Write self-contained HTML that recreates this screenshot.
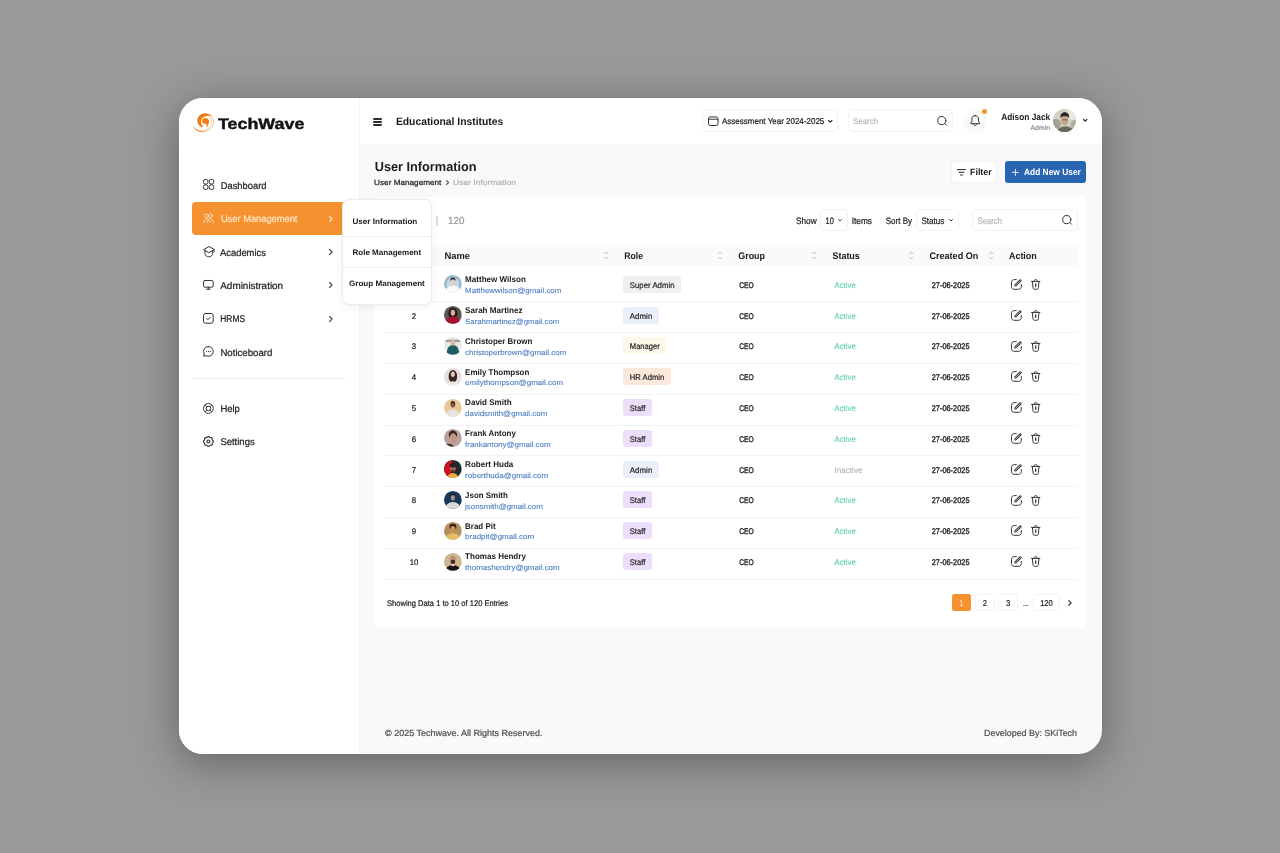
<!DOCTYPE html>
<html lang="en"><head><meta charset="utf-8"><title>User Information - TechWave</title>
<style>
html,body{margin:0;padding:0}
body{width:1280px;height:853px;background:#999;position:relative;overflow:hidden;font-family:"Liberation Sans",sans-serif;text-rendering:geometricPrecision}
#card{position:absolute;left:179px;top:98px;width:923px;height:656px;border-radius:24px;background:#f9f9fb;overflow:hidden}
#sh{position:absolute;left:179px;top:98px;width:923px;height:656px;border-radius:24px;box-shadow:0 9px 42px 2px rgba(0,0,0,.32)}
.t{position:absolute;white-space:nowrap;transform-origin:0 0;color:#222}
.b{position:absolute;box-sizing:border-box}
svg{overflow:visible}
</style></head>
<body>
<div id="sh"></div>
<div id="card">
<div class="b" style="left:0px;top:0px;width:180.5px;height:656px;background:#fff;border-right:1px solid #f4f4f6"></div>
<div class="b" style="left:180.5px;top:0px;width:742.5px;height:46px;background:#fff"></div>
<svg class="b" style="left:10px;top:10px;" width="30" height="30" viewBox="0 0 30 30">
<path d="M13.600 19.200C9.400 17.800 7.600 14.300 8.500 10.900C9.600 7 13.500 4.900 17.700 5.400C20.400 5.700 22.400 6.900 23.400 8.400C21.600 7.600 19.600 7.700 17.800 8C14.500 8.600 12.300 10.600 12.100 13.200C11.900 15.500 12.800 17.300 14.300 18.500Z" fill="#f07d14"/>
<path d="M13.100 13.500C13 11.100 15 9.900 16.900 10.100C19 10.300 20.200 12 20 14C19.800 16.100 19 17.900 17.400 19.500C17.700 17.900 17.600 16.600 16.900 15.700C15.900 16.100 13.200 15.900 13.100 13.500Z" fill="#f27d10"/>
<path d="M3.900 18.100C6.500 21.400 10.500 23 14 22.800C16.500 22.600 18.400 21.600 19.400 20.200C18.600 22.300 16.500 23.900 13.800 24.200C9.500 24.700 5.500 22.300 3.900 18.100Z" fill="#f0a162"/>
<path d="M21.600 7.600C24.600 10.100 25.500 14 24.100 17.500C23.100 20 21.200 21.800 19 22.600M20.100 8.700C22.500 10.600 23.300 14 22.100 17C21.400 18.700 20.100 20.200 18.600 21" fill="none" stroke="#f4ab6c" stroke-width=".7" stroke-linecap="round"/>
</svg>
<span class="t" style="left:39px;top:16px;font-size:15.4px;line-height:20px;font-weight:700;color:#111;-webkit-text-stroke:0.4px;transform:translate(0px,0.9px) scaleX(1.160);">TechWave</span>
<svg class="b" style="left:23.9px;top:81.3px;" width="11.2" height="10.9" viewBox="0 0 11.2 10.9"><g fill="none" stroke="#333" stroke-width="1"><rect x=".5" y=".5" width="4.400" height="4.500" rx="1.500"/><rect x="6.300" y=".5" width="4.400" height="4.500" rx="1.500"/><rect x=".5" y="5.900" width="4.400" height="4.500" rx="1.500"/><rect x="6.300" y="5.900" width="4.400" height="4.500" rx="1.500"/></g></svg>
<span class="t" style="left:41px;top:81px;font-size:9.8px;line-height:13px;-webkit-text-stroke:0.22px;transform:translate(0.7px,0.9px) scaleX(0.955);">Dashboard</span>
<div class="b" style="left:13px;top:103.7px;width:154px;height:33.1px;background:#f5922f;border-radius:4px"></div>
<svg class="b" style="left:24px;top:115px;" width="11" height="11" viewBox="0 0 11 11"><g fill="none" stroke="#fde3c8" stroke-width=".9" stroke-linecap="round"><circle cx="3.500" cy="2.900" r="1.900"/><circle cx="7.500" cy="2.900" r="1.900"/><path d="M.6 9.800c.2-2.300 1.400-3.700 2.900-3.700s2.100.9 2.100.9.600-.9 2.100-.9 2.700 1.400 2.900 3.700M3.500 9.800l2-2.800 2 2.800"/></g></svg>
<span class="t" style="left:41px;top:115px;font-size:9.8px;line-height:13px;color:#fde3c0;-webkit-text-stroke:0.22px;transform:translate(0.9px,0.4px) scaleX(0.950);">User Management</span>
<svg class="b" style="left:149.5px;top:117.5px;" width="3.7" height="6" viewBox="0 0 3.700 6"><path d="M.6 .5L3.100 3 .6 5.500" fill="none" stroke="#fde3c8" stroke-width="1.1" stroke-linecap="round" stroke-linejoin="round"/></svg>
<svg class="b" style="left:23.7px;top:147.7px;" width="11.6" height="11.4" viewBox="0 0 11.6 11.4"><g fill="none" stroke="#333" stroke-width="1" stroke-linejoin="round" stroke-linecap="round"><path d="M5.800.700L.600 3.700l5.200 3 5.200-3z"/><path d="M2 4.900v2.700c0 1.800 1.700 3.200 3.800 3.200s3.800-1.400 3.800-3.200V4.900"/><path d="M11 3.700v2.300"/></g></svg>
<span class="t" style="left:41px;top:148px;font-size:9.8px;line-height:13px;-webkit-text-stroke:0.22px;transform:translate(0px,0.5px) scaleX(0.958);">Academics</span>
<svg class="b" style="left:149.5px;top:150.9px;" width="3.7" height="6" viewBox="0 0 3.700 6"><path d="M.6 .5L3.100 3 .6 5.500" fill="none" stroke="#444" stroke-width="1.1" stroke-linecap="round" stroke-linejoin="round"/></svg>
<svg class="b" style="left:24.1px;top:182px;" width="10.7" height="9.7" viewBox="0 0 10.7 9.7"><g fill="none" stroke="#333" stroke-width="1" stroke-linejoin="round" stroke-linecap="round"><rect x=".5" y=".5" width="9.700" height="6.700" rx="1.400"/><path d="M3.500 9.200h3.700M5.350 7.200v2"/></g></svg>
<span class="t" style="left:41px;top:182px;font-size:9.8px;line-height:13px;-webkit-text-stroke:0.22px;transform:translate(0.25px,0px) scaleX(1.013);">Administration</span>
<svg class="b" style="left:149.5px;top:184.3px;" width="3.7" height="6" viewBox="0 0 3.700 6"><path d="M.6 .5L3.100 3 .6 5.500" fill="none" stroke="#444" stroke-width="1.1" stroke-linecap="round" stroke-linejoin="round"/></svg>
<svg class="b" style="left:24.1px;top:215.1px;" width="10.7" height="10.7" viewBox="0 0 10.7 10.7"><g fill="none" stroke="#333" stroke-width="1" stroke-linejoin="round" stroke-linecap="round"><rect x=".5" y=".5" width="9.700" height="9.700" rx="2"/><path d="M3.600 5.500l1.300 1.300 2.300-2.500"/></g></svg>
<span class="t" style="left:41px;top:215px;font-size:9.8px;line-height:13px;-webkit-text-stroke:0.22px;transform:translate(0.3px,0.4px) scaleX(0.856);">HRMS</span>
<svg class="b" style="left:149.5px;top:217.7px;" width="3.7" height="6" viewBox="0 0 3.700 6"><path d="M.6 .5L3.100 3 .6 5.500" fill="none" stroke="#444" stroke-width="1.1" stroke-linecap="round" stroke-linejoin="round"/></svg>
<svg class="b" style="left:24.1px;top:248.2px;" width="10.7" height="10.8" viewBox="0 0 10.7 10.8"><g fill="none" stroke="#333" stroke-width="1" stroke-linejoin="round" stroke-linecap="round"><path d="M5.400.5a4.900 4.900 0 1 1-2.500 9.100L.6 10.200l.6-2.300A4.900 4.900 0 0 1 5.400.5z"/></g><g fill="#333"><circle cx="3.400" cy="5.400" r=".55"/><circle cx="5.400" cy="5.400" r=".55"/><circle cx="7.400" cy="5.400" r=".55"/></g></svg>
<span class="t" style="left:41px;top:248px;font-size:9.8px;line-height:13px;-webkit-text-stroke:0.22px;transform:translate(0.4px,0.8px) scaleX(0.984);">Noticeboard</span>
<div class="b" style="left:13px;top:279.6px;width:153.6px;height:1px;background:#ededed"></div>
<svg class="b" style="left:24.1px;top:304.5px;" width="10.8" height="10.8" viewBox="0 0 10.8 10.8"><g fill="none" stroke="#333" stroke-width="1"><circle cx="5.400" cy="5.400" r="4.900"/><circle cx="5.400" cy="5.400" r="2.300"/><path d="M2 2l1.800 1.800M8.800 2L7 3.800M2 8.800l1.800-1.800M8.800 8.800L7 7"/></g></svg>
<span class="t" style="left:41px;top:304px;font-size:9.8px;line-height:13px;-webkit-text-stroke:0.22px;transform:translate(0.4px,0.6px) scaleX(0.967);">Help</span>
<svg class="b" style="left:24.1px;top:338px;" width="10.8" height="10.9" viewBox="0 0 10.8 10.9"><g fill="none" stroke="#333" stroke-width="1.150" stroke-linejoin="round"><path d="M5.40 0.43L5.88 0.58L6.30 0.94L6.65 1.33L7.00 1.59L7.43 1.66L7.96 1.63L8.51 1.66L8.95 1.90L9.19 2.34L9.22 2.89L9.19 3.42L9.26 3.85L9.52 4.20L9.91 4.55L10.27 4.97L10.42 5.45L10.27 5.93L9.91 6.35L9.52 6.70L9.26 7.05L9.19 7.48L9.22 8.01L9.19 8.56L8.95 9.00L8.51 9.24L7.96 9.27L7.43 9.24L7.00 9.31L6.65 9.57L6.30 9.96L5.88 10.32L5.40 10.47L4.92 10.32L4.50 9.96L4.15 9.57L3.80 9.31L3.37 9.24L2.84 9.27L2.29 9.24L1.85 9.00L1.61 8.56L1.58 8.01L1.61 7.48L1.54 7.05L1.28 6.70L0.89 6.35L0.53 5.93L0.38 5.45L0.53 4.97L0.89 4.55L1.28 4.20L1.54 3.85L1.61 3.42L1.58 2.89L1.61 2.34L1.85 1.90L2.29 1.66L2.84 1.63L3.37 1.66L3.80 1.59L4.15 1.33L4.50 0.94L4.92 0.58Z"/><circle cx="5.400" cy="5.450" r="1.450"/></g></svg>
<span class="t" style="left:41px;top:338px;font-size:9.8px;line-height:13px;-webkit-text-stroke:0.22px;transform:translate(0.4px,0px) scaleX(0.967);">Settings</span>
<div class="b" style="left:194.1px;top:20px;width:8.9px;height:1.65px;background:#2e2e2e;border-radius:1px"></div>
<div class="b" style="left:194.1px;top:23.05px;width:8.9px;height:1.65px;background:#2e2e2e;border-radius:1px"></div>
<div class="b" style="left:194.1px;top:26.1px;width:8.9px;height:1.65px;background:#2e2e2e;border-radius:1px"></div>
<span class="t" style="left:216px;top:16px;font-size:10.7px;line-height:14px;font-weight:700;color:#1a1a1a;transform:translate(0.9px,0.9px) scaleX(0.967);">Educational Institutes</span>
<div class="b" style="left:522.7px;top:11.2px;width:136.6px;height:22.6px;border:1px solid #f2f2f3;border-radius:4px;background:#fff"></div>
<svg class="b" style="left:528.5px;top:18px;" width="10.5" height="10" viewBox="0 0 10.5 10"><g fill="none" stroke="#333" stroke-width="1" stroke-linejoin="round"><rect x=".5" y=".9" width="9.500" height="8.600" rx="1.800"/><path d="M.5 3.200h9.500"/></g></svg>
<span class="t" style="left:543px;top:17px;font-size:8.5px;line-height:11px;-webkit-text-stroke:0.22px;transform:translate(0px,0.9px) scaleX(0.941);">Assessment Year 2024-2025</span>
<svg class="b" style="left:649px;top:21.6px;" width="4.4" height="2.8" viewBox="0 0 4.4 2.800"><path d="M.5.5l1.700 1.700L3.900.5" fill="none" stroke="#333" stroke-width="1.200" stroke-linecap="round" stroke-linejoin="round"/></svg>
<div class="b" style="left:668.5px;top:11.2px;width:105.8px;height:22.6px;border:1px solid #f2f2f3;border-radius:4px;background:#fff"></div>
<span class="t" style="left:674px;top:17px;font-size:8.5px;line-height:11px;color:#b8b8b8;-webkit-text-stroke:0.22px;transform:translate(0px,0.9px) scaleX(0.928);">Search</span>
<svg class="b" style="left:758.3px;top:17.8px;" width="10.4" height="10" viewBox="0 0 10.4 10"><g fill="none" stroke="#333" stroke-width="1" stroke-linecap="round"><circle cx="4.800" cy="4.600" r="4.100"/><path d="M7.900 7.600l1.600 1.600"/></g></svg>
<div class="b" style="left:784.5px;top:11.5px;width:23px;height:23px;background:#f9f9fa;border-radius:50%"></div>
<svg class="b" style="left:790.8px;top:17.3px;" width="10.4" height="11.2" viewBox="0 0 10.4 11.2"><g fill="none" stroke="#333" stroke-width="1" stroke-linecap="round" stroke-linejoin="round"><path d="M5.200.6C3.200.6 1.900 2.100 1.900 4v2.300L.7 8.200c-.1.300 0 .5.300.5h8.400c.3 0 .4-.2.300-.5L8.500 6.300V4C8.500 2.100 7.200.6 5.200.6z"/><path d="M3.800 9c0 .9.600 1.600 1.400 1.600s1.400-.7 1.400-1.600"/></g></svg>
<div class="b" style="left:802.7px;top:11.2px;width:5.2px;height:5.2px;background:#f5922f;border-radius:50%"></div>
<span class="t" style="left:822px;top:12px;font-size:9.1px;line-height:12px;font-weight:700;color:#1a1a1a;transform:translate(0.25px,0.7px) scaleX(0.912);">Adison Jack</span>
<span class="t" style="left:851px;top:25px;font-size:6.6px;line-height:9px;color:#919191;-webkit-text-stroke:0.22px;transform:translate(0.5px,0.8px) scaleX(1.048);">Admin</span>
<svg class="b" style="left:874.1px;top:11.3px;" width="23" height="23" viewBox="0 0 23 23"><defs><clipPath id="ca"><circle cx="11.5" cy="11.5" r="11.5"/></clipPath></defs><g clip-path="url(#ca)"><rect width="23" height="23" fill="#d3d1c6"/><ellipse cx="2.500" cy="15" rx="5.500" ry="5" fill="#8f917f" opacity=".75"/><ellipse cx="19" cy="5" rx="6" ry="6" fill="#e9e7df"/><ellipse cx="21.500" cy="16" rx="4" ry="5" fill="#9a9a88" opacity=".6"/><ellipse cx="12.300" cy="24" rx="8.800" ry="6.800" fill="#676b5d"/><ellipse cx="11.700" cy="11.400" rx="3.400" ry="4.600" fill="#c9a08b"/><path d="M7.500 9.200C6.800 5.500 9 3.300 11.800 3.300s5 2.200 4.300 5.900c-.8-1.600-2.300-2.300-4.300-2.300s-3.500.7-4.300 2.300z" fill="#2b2521"/><path d="M8.800 10.800h5.800" stroke="#4a3a32" stroke-width=".8" opacity=".7"/></g></svg>
<svg class="b" style="left:904.1px;top:21.4px;" width="4.4" height="2.8" viewBox="0 0 4.4 2.800"><path d="M.5.5l1.700 1.700L3.900.5" fill="none" stroke="#333" stroke-width="1.200" stroke-linecap="round" stroke-linejoin="round"/></svg>
<span class="t" style="left:195px;top:60px;font-size:13px;line-height:17px;font-weight:700;color:#1a1a1a;transform:translate(0.7px,0px) scaleX(0.979);">User Information</span>
<span class="t" style="left:195px;top:79px;font-size:7.6px;line-height:10px;-webkit-text-stroke:0.22px;transform:translate(0.1px,0.9px) scaleX(1.077);">User Management</span>
<svg class="b" style="left:267px;top:82.4px;" width="3" height="5" viewBox="0 0 3 5"><path d="M.6.600l1.900 1.900-1.900 1.900" fill="none" stroke="#4a4a4a" stroke-width="1.100" stroke-linecap="round" stroke-linejoin="round"/></svg>
<span class="t" style="left:274px;top:79px;font-size:7.6px;line-height:10px;color:#b4b4b4;-webkit-text-stroke:0.22px;transform:translate(0px,0.9px) scaleX(1.122);">User Information</span>
<div class="b" style="left:771.8px;top:62.5px;width:46.3px;height:22.5px;border:1px solid #f2f2f3;border-radius:3px;background:#fff"></div>
<svg class="b" style="left:778px;top:70.6px;" width="9" height="6.6" viewBox="0 0 9 6.600"><path d="M.5.600h8M2 3.300h5M3.500 6h2" fill="none" stroke="#222" stroke-width="1" stroke-linecap="round"/></svg>
<span class="t" style="left:791px;top:68px;font-size:9.2px;line-height:12px;font-weight:700;color:#1a1a1a;transform:translate(0px,0.3px) scaleX(0.968);">Filter</span>
<div class="b" style="left:825.7px;top:63.3px;width:81.1px;height:21.3px;border-radius:3px;background:#2866b4"></div>
<svg class="b" style="left:833.3px;top:70.6px;" width="6.8" height="6.8" viewBox="0 0 6.800 6.800"><path d="M3.400.4v6M.4 3.400h6" fill="none" stroke="#fff" stroke-width=".9" stroke-linecap="round"/></svg>
<span class="t" style="left:845px;top:68px;font-size:9.2px;line-height:12px;font-weight:700;color:#fff;transform:translate(0px,0.3px) scaleX(0.912);">Add New User</span>
<div class="b" style="left:195px;top:99px;width:712.5px;height:431.1px;border-radius:6px;background:#fff"></div>
<div class="b" style="left:257.2px;top:117.6px;width:1.5px;height:10px;background:#dcdcdc"></div>
<span class="t" style="left:269px;top:117px;font-size:10.3px;line-height:13px;color:#9b9b9b;-webkit-text-stroke:0.22px;transform:translate(0px,0.4px) scaleX(0.954);">120</span>
<span class="t" style="left:616px;top:116px;font-size:9.3px;line-height:12px;-webkit-text-stroke:0.22px;transform:translate(0.9px,0.9px) scaleX(0.892);">Show</span>
<div class="b" style="left:641px;top:110.7px;width:27.5px;height:22.6px;border:1px solid #f2f2f3;border-radius:3px;background:#fff"></div>
<span class="t" style="left:646px;top:116px;font-size:9.3px;line-height:12px;-webkit-text-stroke:0.22px;transform:translate(0.5px,0.9px) scaleX(0.798);">10</span>
<svg class="b" style="left:658.6px;top:121.3px;" width="4" height="2.6" viewBox="0 0 4 2.600"><path d="M.5.5l1.500 1.500L3.500.5" fill="none" stroke="#333" stroke-width=".9" stroke-linecap="round" stroke-linejoin="round"/></svg>
<span class="t" style="left:672px;top:116px;font-size:9.3px;line-height:12px;-webkit-text-stroke:0.22px;transform:translate(0.75px,0.9px) scaleX(0.891);">Items</span>
<span class="t" style="left:706px;top:116px;font-size:9.3px;line-height:12px;-webkit-text-stroke:0.22px;transform:translate(0.75px,0.9px) scaleX(0.861);">Sort By</span>
<div class="b" style="left:737.2px;top:110.7px;width:42.6px;height:22.6px;border:1px solid #f2f2f3;border-radius:3px;background:#fff"></div>
<span class="t" style="left:742px;top:116px;font-size:9.3px;line-height:12px;-webkit-text-stroke:0.22px;transform:translate(0.5px,0.9px) scaleX(0.863);">Status</span>
<svg class="b" style="left:769.6px;top:121.3px;" width="4" height="2.6" viewBox="0 0 4 2.600"><path d="M.5.5l1.500 1.500L3.500.5" fill="none" stroke="#333" stroke-width=".9" stroke-linecap="round" stroke-linejoin="round"/></svg>
<div class="b" style="left:793px;top:110.7px;width:106px;height:22.6px;border:1px solid #f2f2f3;border-radius:3px;background:#fff"></div>
<span class="t" style="left:798px;top:116px;font-size:9.3px;line-height:12px;color:#b8b8b8;-webkit-text-stroke:0.22px;transform:translate(0.5px,0.9px) scaleX(0.831);">Search</span>
<svg class="b" style="left:882.8px;top:117.3px;" width="10.4" height="10" viewBox="0 0 10.4 10"><g fill="none" stroke="#333" stroke-width="1" stroke-linecap="round"><circle cx="4.800" cy="4.600" r="4.100"/><path d="M7.900 7.600l1.600 1.600"/></g></svg>
<div class="b" style="left:205px;top:146.7px;width:694px;height:20.9px;background:#f9fafb;border-radius:3px"></div>
<span class="t" style="left:265px;top:152px;font-size:9.5px;line-height:12px;font-weight:700;color:#1a1a1a;transform:translate(0.5px,0.6px) scaleX(0.986);">Name</span>
<span class="t" style="left:445px;top:152px;font-size:9.5px;line-height:12px;font-weight:700;color:#1a1a1a;transform:translate(0.25px,0.6px) scaleX(0.913);">Role</span>
<span class="t" style="left:559px;top:152px;font-size:9.5px;line-height:12px;font-weight:700;color:#1a1a1a;transform:translate(0.25px,0.6px) scaleX(0.939);">Group</span>
<span class="t" style="left:653px;top:152px;font-size:9.5px;line-height:12px;font-weight:700;color:#1a1a1a;transform:translate(0.5px,0.6px) scaleX(0.940);">Status</span>
<span class="t" style="left:750px;top:152px;font-size:9.5px;line-height:12px;font-weight:700;color:#1a1a1a;transform:translate(0.5px,0.6px) scaleX(0.952);">Created On</span>
<span class="t" style="left:830px;top:152px;font-size:9.5px;line-height:12px;font-weight:700;color:#1a1a1a;transform:translate(0px,0.6px) scaleX(0.939);">Action</span>
<svg class="b" style="left:424.7px;top:152.5px;" width="4.4" height="8.8" viewBox="0 0 4.400 8.800"><path d="M.5 2.700l1.700-1.900 1.700 1.900M.5 6.100l1.700 1.900 1.700-1.900" fill="none" stroke="#c3c3c8" stroke-width="1" stroke-linecap="round" stroke-linejoin="round"/></svg>
<svg class="b" style="left:539px;top:152.5px;" width="4.4" height="8.8" viewBox="0 0 4.400 8.800"><path d="M.5 2.700l1.700-1.900 1.700 1.900M.5 6.100l1.700 1.900 1.700-1.900" fill="none" stroke="#c3c3c8" stroke-width="1" stroke-linecap="round" stroke-linejoin="round"/></svg>
<svg class="b" style="left:633px;top:152.5px;" width="4.4" height="8.8" viewBox="0 0 4.400 8.800"><path d="M.5 2.700l1.700-1.900 1.700 1.900M.5 6.100l1.700 1.900 1.700-1.900" fill="none" stroke="#c3c3c8" stroke-width="1" stroke-linecap="round" stroke-linejoin="round"/></svg>
<svg class="b" style="left:730.3px;top:152.5px;" width="4.4" height="8.8" viewBox="0 0 4.400 8.800"><path d="M.5 2.700l1.700-1.900 1.700 1.900M.5 6.100l1.700 1.900 1.700-1.900" fill="none" stroke="#c3c3c8" stroke-width="1" stroke-linecap="round" stroke-linejoin="round"/></svg>
<svg class="b" style="left:809.8px;top:152.5px;" width="4.4" height="8.8" viewBox="0 0 4.400 8.800"><path d="M.5 2.700l1.700-1.900 1.700 1.900M.5 6.100l1.700 1.900 1.700-1.900" fill="none" stroke="#c3c3c8" stroke-width="1" stroke-linecap="round" stroke-linejoin="round"/></svg>
<div class="b" style="left:205px;top:203.4px;width:694px;height:1px;background:#f3f3f5"></div>
<span class="t" style="left:232px;top:181px;font-size:8.2px;line-height:11px;-webkit-text-stroke:0.22px;transform:translate(0.83px,0.8px) scaleX(0.950);">1</span>
<svg class="b" style="left:265.3px;top:177.3px;" width="17.8" height="17.8" viewBox="0 0 18 18"><defs><clipPath id="c0"><circle cx="9" cy="9" r="9"/></clipPath></defs><g clip-path="url(#c0)"><rect width="18" height="18" fill="#9bb8cb"/><circle cx="9" cy="9" r="6.500" fill="#c4d7e3"/><ellipse cx="9" cy="17.500" rx="8" ry="7" fill="#fbfbfb"/><ellipse cx="9" cy="4.800" rx="2.600" ry="2.300" fill="#2a2624"/><ellipse cx="9" cy="7.300" rx="2.100" ry="2.900" fill="#e6cfc3"/></g></svg>
<span class="t" style="left:286px;top:176px;font-size:8.3px;line-height:11px;font-weight:700;color:#1a1a1a;transform:translate(0.1px,0.2px) scaleX(0.970);">Matthew Wilson</span>
<span class="t" style="left:286px;top:188px;font-size:7.4px;line-height:10px;color:#4a7ec4;-webkit-text-stroke:0.1px;transform:translate(0.1px,0px) scaleX(1.074);">Matthewwilson@gmail.com</span>
<div class="b" style="left:444px;top:177.8px;width:58.25px;height:17px;background:#f0f0f1;border-radius:3px"></div>
<span class="t" style="left:450px;top:181px;font-size:8.2px;line-height:11px;color:#2a2a2a;-webkit-text-stroke:0.22px;transform:translate(0.8px,0.8px) scaleX(0.954);">Super Admin</span>
<span class="t" style="left:560px;top:181px;font-size:8.2px;line-height:11px;-webkit-text-stroke:0.35px;transform:translate(0.25px,0.8px) scaleX(0.817);">CEO</span>
<span class="t" style="left:655px;top:181px;font-size:8.2px;line-height:11px;color:#62d2a2;-webkit-text-stroke:0.1px;transform:translate(0.5px,0.8px) scaleX(0.953);">Active</span>
<span class="t" style="left:752px;top:181px;font-size:8.2px;line-height:11px;-webkit-text-stroke:0.35px;transform:translate(0.75px,0.8px) scaleX(0.901);">27-06-2025</span>
<svg class="b" style="left:832.2px;top:180.9px;" width="10.8" height="10.8" viewBox="0 0 10.800 10.800"><g fill="none" stroke="#333" stroke-linecap="round" stroke-linejoin="round"><path stroke-width="1" d="M5.300.600H3.300C1.600.600.500 1.700.500 3.400v4.200c0 1.700 1.100 2.700 2.800 2.700h4.200c1.700 0 2.800-1 2.800-2.700V5.500"/><path stroke-width="2.500" d="M4.500 6.300l4.900-4.800"/><path stroke="#fff" stroke-width=".7" d="M4.500 6.300l4.900-4.800"/></g></svg>
<svg class="b" style="left:852.2px;top:181px;" width="9.4" height="10.8" viewBox="0 0 9.400 10.800"><g fill="none" stroke="#333" stroke-width="1" stroke-linecap="round" stroke-linejoin="round"><path d="M.5 2.400h8.400M3.100 2.300c0-1 .7-1.800 1.600-1.800s1.600.8 1.600 1.800M1.400 2.600l.6 6.100c.1 1 .7 1.600 1.600 1.600h2.200c.9 0 1.500-.6 1.600-1.600l.6-6.100"/><path stroke-width="1.300" d="M4.700 5v2.300"/></g></svg>
<div class="b" style="left:205px;top:234.2px;width:694px;height:1px;background:#f3f3f5"></div>
<span class="t" style="left:232px;top:212px;font-size:8.2px;line-height:11px;-webkit-text-stroke:0.22px;transform:translate(0.83px,0.6px) scaleX(0.950);">2</span>
<svg class="b" style="left:265.3px;top:208.1px;" width="17.8" height="17.8" viewBox="0 0 18 18"><defs><clipPath id="c1"><circle cx="9" cy="9" r="9"/></clipPath></defs><g clip-path="url(#c1)"><rect width="18" height="18" fill="#5b5656"/><ellipse cx="9" cy="7.500" rx="4.600" ry="6" fill="#2b1b1b"/><ellipse cx="9" cy="18" rx="8.500" ry="7.500" fill="#a5132b"/><ellipse cx="9" cy="6.800" rx="2.200" ry="3.100" fill="#dbad9a"/></g></svg>
<span class="t" style="left:286px;top:207px;font-size:8.3px;line-height:11px;font-weight:700;color:#1a1a1a;transform:translate(0.1px,0px) scaleX(0.974);">Sarah Martinez</span>
<span class="t" style="left:286px;top:218px;font-size:7.4px;line-height:10px;color:#4a7ec4;-webkit-text-stroke:0.1px;transform:translate(0.1px,0.8px) scaleX(1.056);">Sarahmartinez@gmail.com</span>
<div class="b" style="left:444px;top:208.6px;width:35.75px;height:17px;background:#e9f0fc;border-radius:3px"></div>
<span class="t" style="left:450px;top:212px;font-size:8.2px;line-height:11px;color:#2a2a2a;-webkit-text-stroke:0.22px;transform:translate(0.8px,0.6px) scaleX(0.969);">Admin</span>
<span class="t" style="left:560px;top:212px;font-size:8.2px;line-height:11px;-webkit-text-stroke:0.35px;transform:translate(0.25px,0.6px) scaleX(0.817);">CEO</span>
<span class="t" style="left:655px;top:212px;font-size:8.2px;line-height:11px;color:#62d2a2;-webkit-text-stroke:0.1px;transform:translate(0.5px,0.6px) scaleX(0.953);">Active</span>
<span class="t" style="left:752px;top:212px;font-size:8.2px;line-height:11px;-webkit-text-stroke:0.35px;transform:translate(0.75px,0.6px) scaleX(0.901);">27-06-2025</span>
<svg class="b" style="left:832.2px;top:211.7px;" width="10.8" height="10.8" viewBox="0 0 10.800 10.800"><g fill="none" stroke="#333" stroke-linecap="round" stroke-linejoin="round"><path stroke-width="1" d="M5.300.600H3.300C1.600.600.500 1.700.500 3.400v4.200c0 1.700 1.100 2.700 2.800 2.700h4.200c1.700 0 2.800-1 2.800-2.700V5.500"/><path stroke-width="2.500" d="M4.500 6.300l4.900-4.800"/><path stroke="#fff" stroke-width=".7" d="M4.500 6.300l4.900-4.800"/></g></svg>
<svg class="b" style="left:852.2px;top:211.8px;" width="9.4" height="10.8" viewBox="0 0 9.400 10.800"><g fill="none" stroke="#333" stroke-width="1" stroke-linecap="round" stroke-linejoin="round"><path d="M.5 2.400h8.400M3.100 2.300c0-1 .7-1.800 1.600-1.800s1.600.8 1.600 1.800M1.400 2.600l.6 6.100c.1 1 .7 1.600 1.600 1.600h2.200c.9 0 1.500-.6 1.600-1.600l.6-6.100"/><path stroke-width="1.300" d="M4.700 5v2.300"/></g></svg>
<div class="b" style="left:205px;top:265px;width:694px;height:1px;background:#f3f3f5"></div>
<span class="t" style="left:232px;top:243px;font-size:8.2px;line-height:11px;-webkit-text-stroke:0.22px;transform:translate(0.83px,0.4px) scaleX(0.950);">3</span>
<svg class="b" style="left:265.3px;top:238.9px;" width="17.8" height="17.8" viewBox="0 0 18 18"><defs><clipPath id="c2"><circle cx="9" cy="9" r="9"/></clipPath></defs><g clip-path="url(#c2)"><rect width="18" height="18" fill="#e4e9e0"/><rect y="2.800" width="18" height="2.200" fill="#7f857c" opacity=".75"/><rect y="11" width="18" height="7" fill="#f4f5f2"/><ellipse cx="9" cy="15" rx="6.200" ry="6.800" fill="#1f5f64"/><ellipse cx="9" cy="5.600" rx="2.200" ry="2.900" fill="#d9b7a4"/></g></svg>
<span class="t" style="left:286px;top:237px;font-size:8.3px;line-height:11px;font-weight:700;color:#1a1a1a;transform:translate(0.1px,0.8px) scaleX(0.960);">Christoper Brown</span>
<span class="t" style="left:286px;top:249px;font-size:7.4px;line-height:10px;color:#4a7ec4;-webkit-text-stroke:0.1px;transform:translate(0.1px,0.6px) scaleX(1.080);">christoperbrown@gmail.com</span>
<div class="b" style="left:444px;top:239.4px;width:42.75px;height:17px;background:#fbf8e9;border-radius:3px"></div>
<span class="t" style="left:450px;top:243px;font-size:8.2px;line-height:11px;color:#2a2a2a;-webkit-text-stroke:0.22px;transform:translate(0.8px,0.4px) scaleX(0.928);">Manager</span>
<span class="t" style="left:560px;top:243px;font-size:8.2px;line-height:11px;-webkit-text-stroke:0.35px;transform:translate(0.25px,0.4px) scaleX(0.817);">CEO</span>
<span class="t" style="left:655px;top:243px;font-size:8.2px;line-height:11px;color:#62d2a2;-webkit-text-stroke:0.1px;transform:translate(0.5px,0.4px) scaleX(0.953);">Active</span>
<span class="t" style="left:752px;top:243px;font-size:8.2px;line-height:11px;-webkit-text-stroke:0.35px;transform:translate(0.75px,0.4px) scaleX(0.901);">27-06-2025</span>
<svg class="b" style="left:832.2px;top:242.5px;" width="10.8" height="10.8" viewBox="0 0 10.800 10.800"><g fill="none" stroke="#333" stroke-linecap="round" stroke-linejoin="round"><path stroke-width="1" d="M5.300.600H3.300C1.600.600.500 1.700.500 3.400v4.200c0 1.700 1.100 2.700 2.800 2.700h4.200c1.700 0 2.800-1 2.800-2.700V5.500"/><path stroke-width="2.500" d="M4.500 6.300l4.900-4.800"/><path stroke="#fff" stroke-width=".7" d="M4.500 6.300l4.900-4.800"/></g></svg>
<svg class="b" style="left:852.2px;top:242.6px;" width="9.4" height="10.8" viewBox="0 0 9.400 10.800"><g fill="none" stroke="#333" stroke-width="1" stroke-linecap="round" stroke-linejoin="round"><path d="M.5 2.400h8.400M3.100 2.300c0-1 .7-1.800 1.600-1.800s1.600.8 1.600 1.800M1.400 2.600l.6 6.100c.1 1 .7 1.600 1.600 1.600h2.200c.9 0 1.500-.6 1.600-1.600l.6-6.100"/><path stroke-width="1.300" d="M4.700 5v2.300"/></g></svg>
<div class="b" style="left:205px;top:295.8px;width:694px;height:1px;background:#f3f3f5"></div>
<span class="t" style="left:232px;top:274px;font-size:8.2px;line-height:11px;-webkit-text-stroke:0.22px;transform:translate(0.83px,0.2px) scaleX(0.950);">4</span>
<svg class="b" style="left:265.3px;top:269.7px;" width="17.8" height="17.8" viewBox="0 0 18 18"><defs><clipPath id="c3"><circle cx="9" cy="9" r="9"/></clipPath></defs><g clip-path="url(#c3)"><rect width="18" height="18" fill="#e6dedc"/><ellipse cx="9" cy="8.500" rx="4.300" ry="6.600" fill="#3b2521"/><ellipse cx="9" cy="19" rx="6.500" ry="5.500" fill="#f0ebe9"/><ellipse cx="9" cy="6.300" rx="2" ry="2.800" fill="#e5c4b5"/></g></svg>
<span class="t" style="left:286px;top:268px;font-size:8.3px;line-height:11px;font-weight:700;color:#1a1a1a;transform:translate(0.1px,0.6px) scaleX(0.961);">Emily Thompson</span>
<span class="t" style="left:286px;top:280px;font-size:7.4px;line-height:10px;color:#4a7ec4;-webkit-text-stroke:0.1px;transform:translate(0.1px,0.4px) scaleX(1.078);">emilythompson@gmail.com</span>
<div class="b" style="left:444px;top:270.2px;width:47.5px;height:17px;background:#fce8db;border-radius:3px"></div>
<span class="t" style="left:450px;top:274px;font-size:8.2px;line-height:11px;color:#2a2a2a;-webkit-text-stroke:0.22px;transform:translate(0.8px,0.2px) scaleX(0.936);">HR Admin</span>
<span class="t" style="left:560px;top:274px;font-size:8.2px;line-height:11px;-webkit-text-stroke:0.35px;transform:translate(0.25px,0.2px) scaleX(0.817);">CEO</span>
<span class="t" style="left:655px;top:274px;font-size:8.2px;line-height:11px;color:#62d2a2;-webkit-text-stroke:0.1px;transform:translate(0.5px,0.2px) scaleX(0.953);">Active</span>
<span class="t" style="left:752px;top:274px;font-size:8.2px;line-height:11px;-webkit-text-stroke:0.35px;transform:translate(0.75px,0.2px) scaleX(0.901);">27-06-2025</span>
<svg class="b" style="left:832.2px;top:273.3px;" width="10.8" height="10.8" viewBox="0 0 10.800 10.800"><g fill="none" stroke="#333" stroke-linecap="round" stroke-linejoin="round"><path stroke-width="1" d="M5.300.600H3.300C1.600.600.500 1.700.500 3.400v4.200c0 1.700 1.100 2.700 2.800 2.700h4.200c1.700 0 2.800-1 2.800-2.700V5.500"/><path stroke-width="2.500" d="M4.500 6.300l4.900-4.800"/><path stroke="#fff" stroke-width=".7" d="M4.500 6.300l4.900-4.800"/></g></svg>
<svg class="b" style="left:852.2px;top:273.4px;" width="9.4" height="10.8" viewBox="0 0 9.400 10.800"><g fill="none" stroke="#333" stroke-width="1" stroke-linecap="round" stroke-linejoin="round"><path d="M.5 2.400h8.400M3.100 2.300c0-1 .7-1.800 1.600-1.800s1.600.8 1.600 1.800M1.400 2.600l.6 6.100c.1 1 .7 1.600 1.600 1.600h2.200c.9 0 1.500-.6 1.600-1.600l.6-6.100"/><path stroke-width="1.300" d="M4.700 5v2.300"/></g></svg>
<div class="b" style="left:205px;top:326.6px;width:694px;height:1px;background:#f3f3f5"></div>
<span class="t" style="left:232px;top:305px;font-size:8.2px;line-height:11px;-webkit-text-stroke:0.22px;transform:translate(0.83px,0px) scaleX(0.950);">5</span>
<svg class="b" style="left:265.3px;top:300.5px;" width="17.8" height="17.8" viewBox="0 0 18 18"><defs><clipPath id="c4"><circle cx="9" cy="9" r="9"/></clipPath></defs><g clip-path="url(#c4)"><rect width="18" height="18" fill="#e8c898"/><ellipse cx="9" cy="18" rx="7.800" ry="7.600" fill="#e5e3db"/><ellipse cx="9" cy="5.200" rx="2.300" ry="3.100" fill="#3c271b"/><ellipse cx="9" cy="6.300" rx="1.700" ry="2.200" fill="#8a5e44"/></g></svg>
<span class="t" style="left:286px;top:299px;font-size:8.3px;line-height:11px;font-weight:700;color:#1a1a1a;transform:translate(0.1px,0.4px) scaleX(0.970);">David Smith</span>
<span class="t" style="left:286px;top:311px;font-size:7.4px;line-height:10px;color:#4a7ec4;-webkit-text-stroke:0.1px;transform:translate(0.1px,0.2px) scaleX(1.075);">davidsmith@gmail.com</span>
<div class="b" style="left:444px;top:301px;width:28.75px;height:17px;background:#eddffb;border-radius:3px"></div>
<span class="t" style="left:450px;top:305px;font-size:8.2px;line-height:11px;color:#2a2a2a;-webkit-text-stroke:0.22px;transform:translate(0.8px,0px) scaleX(0.928);">Staff</span>
<span class="t" style="left:560px;top:305px;font-size:8.2px;line-height:11px;-webkit-text-stroke:0.35px;transform:translate(0.25px,0px) scaleX(0.817);">CEO</span>
<span class="t" style="left:655px;top:305px;font-size:8.2px;line-height:11px;color:#62d2a2;-webkit-text-stroke:0.1px;transform:translate(0.5px,0px) scaleX(0.953);">Active</span>
<span class="t" style="left:752px;top:305px;font-size:8.2px;line-height:11px;-webkit-text-stroke:0.35px;transform:translate(0.75px,0px) scaleX(0.901);">27-06-2025</span>
<svg class="b" style="left:832.2px;top:304.1px;" width="10.8" height="10.8" viewBox="0 0 10.800 10.800"><g fill="none" stroke="#333" stroke-linecap="round" stroke-linejoin="round"><path stroke-width="1" d="M5.300.600H3.300C1.600.600.500 1.700.500 3.400v4.200c0 1.700 1.100 2.700 2.800 2.700h4.200c1.700 0 2.800-1 2.800-2.700V5.500"/><path stroke-width="2.500" d="M4.500 6.300l4.900-4.800"/><path stroke="#fff" stroke-width=".7" d="M4.500 6.300l4.900-4.800"/></g></svg>
<svg class="b" style="left:852.2px;top:304.2px;" width="9.4" height="10.8" viewBox="0 0 9.400 10.800"><g fill="none" stroke="#333" stroke-width="1" stroke-linecap="round" stroke-linejoin="round"><path d="M.5 2.400h8.400M3.100 2.300c0-1 .7-1.800 1.600-1.800s1.600.8 1.600 1.800M1.400 2.600l.6 6.100c.1 1 .7 1.600 1.600 1.600h2.200c.9 0 1.500-.6 1.600-1.600l.6-6.100"/><path stroke-width="1.300" d="M4.700 5v2.300"/></g></svg>
<div class="b" style="left:205px;top:357.4px;width:694px;height:1px;background:#f3f3f5"></div>
<span class="t" style="left:232px;top:335px;font-size:8.2px;line-height:11px;-webkit-text-stroke:0.22px;transform:translate(0.83px,0.8px) scaleX(0.950);">6</span>
<svg class="b" style="left:265.3px;top:331.3px;" width="17.8" height="17.8" viewBox="0 0 18 18"><defs><clipPath id="c5"><circle cx="9" cy="9" r="9"/></clipPath></defs><g clip-path="url(#c5)"><rect width="18" height="18" fill="#b7a29f"/><ellipse cx="9" cy="5.800" rx="4.200" ry="4.200" fill="#3a2421"/><ellipse cx="4.500" cy="18.500" rx="5.500" ry="3.600" fill="#4b2e2a"/><ellipse cx="9.200" cy="9.200" rx="3.500" ry="4.800" fill="#c6937f"/></g></svg>
<span class="t" style="left:286px;top:330px;font-size:8.3px;line-height:11px;font-weight:700;color:#1a1a1a;transform:translate(0.1px,0.2px) scaleX(0.954);">Frank Antony</span>
<span class="t" style="left:286px;top:342px;font-size:7.4px;line-height:10px;color:#4a7ec4;-webkit-text-stroke:0.1px;transform:translate(0.1px,0px) scaleX(1.071);">frankantony@gmail.com</span>
<div class="b" style="left:444px;top:331.8px;width:28.75px;height:17px;background:#eddffb;border-radius:3px"></div>
<span class="t" style="left:450px;top:335px;font-size:8.2px;line-height:11px;color:#2a2a2a;-webkit-text-stroke:0.22px;transform:translate(0.8px,0.8px) scaleX(0.928);">Staff</span>
<span class="t" style="left:560px;top:335px;font-size:8.2px;line-height:11px;-webkit-text-stroke:0.35px;transform:translate(0.25px,0.8px) scaleX(0.817);">CEO</span>
<span class="t" style="left:655px;top:335px;font-size:8.2px;line-height:11px;color:#62d2a2;-webkit-text-stroke:0.1px;transform:translate(0.5px,0.8px) scaleX(0.953);">Active</span>
<span class="t" style="left:752px;top:335px;font-size:8.2px;line-height:11px;-webkit-text-stroke:0.35px;transform:translate(0.75px,0.8px) scaleX(0.901);">27-06-2025</span>
<svg class="b" style="left:832.2px;top:334.9px;" width="10.8" height="10.8" viewBox="0 0 10.800 10.800"><g fill="none" stroke="#333" stroke-linecap="round" stroke-linejoin="round"><path stroke-width="1" d="M5.300.600H3.300C1.600.600.500 1.700.500 3.400v4.200c0 1.700 1.100 2.700 2.800 2.700h4.200c1.700 0 2.800-1 2.800-2.700V5.500"/><path stroke-width="2.500" d="M4.500 6.300l4.900-4.800"/><path stroke="#fff" stroke-width=".7" d="M4.500 6.300l4.900-4.800"/></g></svg>
<svg class="b" style="left:852.2px;top:335px;" width="9.4" height="10.8" viewBox="0 0 9.400 10.800"><g fill="none" stroke="#333" stroke-width="1" stroke-linecap="round" stroke-linejoin="round"><path d="M.5 2.400h8.400M3.100 2.300c0-1 .7-1.800 1.600-1.800s1.600.8 1.600 1.800M1.400 2.600l.6 6.100c.1 1 .7 1.600 1.600 1.600h2.200c.9 0 1.500-.6 1.600-1.600l.6-6.100"/><path stroke-width="1.300" d="M4.700 5v2.300"/></g></svg>
<div class="b" style="left:205px;top:388.2px;width:694px;height:1px;background:#f3f3f5"></div>
<span class="t" style="left:232px;top:366px;font-size:8.2px;line-height:11px;-webkit-text-stroke:0.22px;transform:translate(0.83px,0.6px) scaleX(0.950);">7</span>
<svg class="b" style="left:265.3px;top:362.1px;" width="17.8" height="17.8" viewBox="0 0 18 18"><defs><clipPath id="c6"><circle cx="9" cy="9" r="9"/></clipPath></defs><g clip-path="url(#c6)"><rect width="18" height="18" fill="#232b2c"/><path d="M0 0h8.500L6 18H0z" fill="#cb1122"/><ellipse cx="9" cy="19" rx="5.800" ry="5.800" fill="#f0b040"/><ellipse cx="9" cy="8.800" rx="2.800" ry="3.500" fill="#b8705a"/><ellipse cx="9" cy="5.600" rx="3.200" ry="2.200" fill="#26201f"/><ellipse cx="9" cy="11" rx="2" ry="1.500" fill="#5a2f25"/></g></svg>
<span class="t" style="left:286px;top:361px;font-size:8.3px;line-height:11px;font-weight:700;color:#1a1a1a;transform:translate(0.1px,0px) scaleX(0.969);">Robert Huda</span>
<span class="t" style="left:286px;top:372px;font-size:7.4px;line-height:10px;color:#4a7ec4;-webkit-text-stroke:0.1px;transform:translate(0.1px,0.8px) scaleX(1.079);">roberthuda@gmail.com</span>
<div class="b" style="left:444px;top:362.6px;width:35.75px;height:17px;background:#e9f0fc;border-radius:3px"></div>
<span class="t" style="left:450px;top:366px;font-size:8.2px;line-height:11px;color:#2a2a2a;-webkit-text-stroke:0.22px;transform:translate(0.8px,0.6px) scaleX(0.969);">Admin</span>
<span class="t" style="left:560px;top:366px;font-size:8.2px;line-height:11px;-webkit-text-stroke:0.35px;transform:translate(0.25px,0.6px) scaleX(0.817);">CEO</span>
<span class="t" style="left:655px;top:366px;font-size:8.2px;line-height:11px;color:#b3b3b3;-webkit-text-stroke:0.1px;transform:translate(0.5px,0.6px) scaleX(0.992);">Inactive</span>
<span class="t" style="left:752px;top:366px;font-size:8.2px;line-height:11px;-webkit-text-stroke:0.35px;transform:translate(0.75px,0.6px) scaleX(0.901);">27-06-2025</span>
<svg class="b" style="left:832.2px;top:365.7px;" width="10.8" height="10.8" viewBox="0 0 10.800 10.800"><g fill="none" stroke="#333" stroke-linecap="round" stroke-linejoin="round"><path stroke-width="1" d="M5.300.600H3.300C1.600.600.500 1.700.500 3.400v4.200c0 1.700 1.100 2.700 2.800 2.700h4.200c1.700 0 2.800-1 2.800-2.700V5.500"/><path stroke-width="2.500" d="M4.500 6.300l4.900-4.800"/><path stroke="#fff" stroke-width=".7" d="M4.500 6.300l4.900-4.800"/></g></svg>
<svg class="b" style="left:852.2px;top:365.8px;" width="9.4" height="10.8" viewBox="0 0 9.400 10.800"><g fill="none" stroke="#333" stroke-width="1" stroke-linecap="round" stroke-linejoin="round"><path d="M.5 2.400h8.400M3.100 2.300c0-1 .7-1.800 1.600-1.800s1.600.8 1.600 1.800M1.400 2.600l.6 6.100c.1 1 .7 1.600 1.600 1.600h2.200c.9 0 1.500-.6 1.600-1.600l.6-6.100"/><path stroke-width="1.300" d="M4.700 5v2.300"/></g></svg>
<div class="b" style="left:205px;top:419px;width:694px;height:1px;background:#f3f3f5"></div>
<span class="t" style="left:232px;top:397px;font-size:8.2px;line-height:11px;-webkit-text-stroke:0.22px;transform:translate(0.83px,0.4px) scaleX(0.950);">8</span>
<svg class="b" style="left:265.3px;top:392.9px;" width="17.8" height="17.8" viewBox="0 0 18 18"><defs><clipPath id="c7"><circle cx="9" cy="9" r="9"/></clipPath></defs><g clip-path="url(#c7)"><rect width="18" height="18" fill="#16395b"/><ellipse cx="9" cy="18" rx="7.800" ry="7" fill="#d9d9d6"/><ellipse cx="9" cy="4.600" rx="2.400" ry="1.900" fill="#1c1a1c"/><ellipse cx="9" cy="6.800" rx="2" ry="2.800" fill="#b48e7b"/></g></svg>
<span class="t" style="left:286px;top:391px;font-size:8.3px;line-height:11px;font-weight:700;color:#1a1a1a;transform:translate(0.1px,0.8px) scaleX(0.956);">Json Smith</span>
<span class="t" style="left:286px;top:403px;font-size:7.4px;line-height:10px;color:#4a7ec4;-webkit-text-stroke:0.1px;transform:translate(0.1px,0.6px) scaleX(1.074);">jsonsmith@gmail.com</span>
<div class="b" style="left:444px;top:393.4px;width:28.75px;height:17px;background:#eddffb;border-radius:3px"></div>
<span class="t" style="left:450px;top:397px;font-size:8.2px;line-height:11px;color:#2a2a2a;-webkit-text-stroke:0.22px;transform:translate(0.8px,0.4px) scaleX(0.928);">Staff</span>
<span class="t" style="left:560px;top:397px;font-size:8.2px;line-height:11px;-webkit-text-stroke:0.35px;transform:translate(0.25px,0.4px) scaleX(0.817);">CEO</span>
<span class="t" style="left:655px;top:397px;font-size:8.2px;line-height:11px;color:#62d2a2;-webkit-text-stroke:0.1px;transform:translate(0.5px,0.4px) scaleX(0.953);">Active</span>
<span class="t" style="left:752px;top:397px;font-size:8.2px;line-height:11px;-webkit-text-stroke:0.35px;transform:translate(0.75px,0.4px) scaleX(0.901);">27-06-2025</span>
<svg class="b" style="left:832.2px;top:396.5px;" width="10.8" height="10.8" viewBox="0 0 10.800 10.800"><g fill="none" stroke="#333" stroke-linecap="round" stroke-linejoin="round"><path stroke-width="1" d="M5.300.600H3.300C1.600.600.500 1.700.500 3.400v4.200c0 1.700 1.100 2.700 2.800 2.700h4.200c1.700 0 2.800-1 2.800-2.700V5.500"/><path stroke-width="2.500" d="M4.500 6.300l4.900-4.800"/><path stroke="#fff" stroke-width=".7" d="M4.500 6.300l4.900-4.800"/></g></svg>
<svg class="b" style="left:852.2px;top:396.6px;" width="9.4" height="10.8" viewBox="0 0 9.400 10.800"><g fill="none" stroke="#333" stroke-width="1" stroke-linecap="round" stroke-linejoin="round"><path d="M.5 2.400h8.400M3.100 2.300c0-1 .7-1.800 1.600-1.800s1.600.8 1.600 1.800M1.400 2.600l.6 6.100c.1 1 .7 1.600 1.600 1.600h2.200c.9 0 1.500-.6 1.600-1.600l.6-6.100"/><path stroke-width="1.300" d="M4.700 5v2.300"/></g></svg>
<div class="b" style="left:205px;top:449.8px;width:694px;height:1px;background:#f3f3f5"></div>
<span class="t" style="left:232px;top:428px;font-size:8.2px;line-height:11px;-webkit-text-stroke:0.22px;transform:translate(0.83px,0.2px) scaleX(0.950);">9</span>
<svg class="b" style="left:265.3px;top:423.7px;" width="17.8" height="17.8" viewBox="0 0 18 18"><defs><clipPath id="c8"><circle cx="9" cy="9" r="9"/></clipPath></defs><g clip-path="url(#c8)"><rect width="18" height="18" fill="#b78f5f"/><ellipse cx="9" cy="18.500" rx="8.500" ry="7" fill="#e2bf68"/><ellipse cx="9" cy="5" rx="3.500" ry="3.200" fill="#2b1b11"/><ellipse cx="9" cy="7.500" rx="2.700" ry="3.500" fill="#c9935f"/></g></svg>
<span class="t" style="left:286px;top:422px;font-size:8.3px;line-height:11px;font-weight:700;color:#1a1a1a;transform:translate(0.1px,0.6px) scaleX(0.959);">Brad Pit</span>
<span class="t" style="left:286px;top:434px;font-size:7.4px;line-height:10px;color:#4a7ec4;-webkit-text-stroke:0.1px;transform:translate(0.1px,0.4px) scaleX(1.082);">bradpit@gmail.com</span>
<div class="b" style="left:444px;top:424.2px;width:28.75px;height:17px;background:#eddffb;border-radius:3px"></div>
<span class="t" style="left:450px;top:428px;font-size:8.2px;line-height:11px;color:#2a2a2a;-webkit-text-stroke:0.22px;transform:translate(0.8px,0.2px) scaleX(0.928);">Staff</span>
<span class="t" style="left:560px;top:428px;font-size:8.2px;line-height:11px;-webkit-text-stroke:0.35px;transform:translate(0.25px,0.2px) scaleX(0.817);">CEO</span>
<span class="t" style="left:655px;top:428px;font-size:8.2px;line-height:11px;color:#62d2a2;-webkit-text-stroke:0.1px;transform:translate(0.5px,0.2px) scaleX(0.953);">Active</span>
<span class="t" style="left:752px;top:428px;font-size:8.2px;line-height:11px;-webkit-text-stroke:0.35px;transform:translate(0.75px,0.2px) scaleX(0.901);">27-06-2025</span>
<svg class="b" style="left:832.2px;top:427.3px;" width="10.8" height="10.8" viewBox="0 0 10.800 10.800"><g fill="none" stroke="#333" stroke-linecap="round" stroke-linejoin="round"><path stroke-width="1" d="M5.300.600H3.300C1.600.600.500 1.700.500 3.400v4.200c0 1.700 1.100 2.700 2.800 2.700h4.200c1.700 0 2.800-1 2.800-2.700V5.500"/><path stroke-width="2.500" d="M4.500 6.300l4.900-4.800"/><path stroke="#fff" stroke-width=".7" d="M4.500 6.300l4.900-4.800"/></g></svg>
<svg class="b" style="left:852.2px;top:427.4px;" width="9.4" height="10.8" viewBox="0 0 9.400 10.800"><g fill="none" stroke="#333" stroke-width="1" stroke-linecap="round" stroke-linejoin="round"><path d="M.5 2.400h8.400M3.100 2.300c0-1 .7-1.800 1.600-1.800s1.600.8 1.600 1.800M1.400 2.600l.6 6.100c.1 1 .7 1.600 1.600 1.600h2.200c.9 0 1.500-.6 1.600-1.600l.6-6.100"/><path stroke-width="1.300" d="M4.700 5v2.300"/></g></svg>
<div class="b" style="left:205px;top:480.6px;width:694px;height:1px;background:#f3f3f5"></div>
<span class="t" style="left:230px;top:459px;font-size:8.2px;line-height:11px;-webkit-text-stroke:0.22px;transform:translate(0.67px,0px) scaleX(0.950);">10</span>
<svg class="b" style="left:265.3px;top:454.5px;" width="17.8" height="17.8" viewBox="0 0 18 18"><defs><clipPath id="c9"><circle cx="9" cy="9" r="9"/></clipPath></defs><g clip-path="url(#c9)"><rect width="18" height="18" fill="#cdb593"/><ellipse cx="9" cy="18.500" rx="8" ry="6.300" fill="#151515"/><ellipse cx="9" cy="6.500" rx="2.800" ry="3.700" fill="#b98f6f"/><ellipse cx="9" cy="9" rx="2.400" ry="2.100" fill="#3e2c22"/><ellipse cx="9" cy="12.500" rx="1.800" ry=".8" fill="#e8e4dc"/></g></svg>
<span class="t" style="left:286px;top:453px;font-size:8.3px;line-height:11px;font-weight:700;color:#1a1a1a;transform:translate(0.1px,0.4px) scaleX(0.969);">Thomas Hendry</span>
<span class="t" style="left:286px;top:465px;font-size:7.4px;line-height:10px;color:#4a7ec4;-webkit-text-stroke:0.1px;transform:translate(0.1px,0.2px) scaleX(1.074);">thomashendry@gmail.com</span>
<div class="b" style="left:444px;top:455px;width:28.75px;height:17px;background:#eddffb;border-radius:3px"></div>
<span class="t" style="left:450px;top:459px;font-size:8.2px;line-height:11px;color:#2a2a2a;-webkit-text-stroke:0.22px;transform:translate(0.8px,0px) scaleX(0.928);">Staff</span>
<span class="t" style="left:560px;top:459px;font-size:8.2px;line-height:11px;-webkit-text-stroke:0.35px;transform:translate(0.25px,0px) scaleX(0.817);">CEO</span>
<span class="t" style="left:655px;top:459px;font-size:8.2px;line-height:11px;color:#62d2a2;-webkit-text-stroke:0.1px;transform:translate(0.5px,0px) scaleX(0.953);">Active</span>
<span class="t" style="left:752px;top:459px;font-size:8.2px;line-height:11px;-webkit-text-stroke:0.35px;transform:translate(0.75px,0px) scaleX(0.901);">27-06-2025</span>
<svg class="b" style="left:832.2px;top:458.1px;" width="10.8" height="10.8" viewBox="0 0 10.800 10.800"><g fill="none" stroke="#333" stroke-linecap="round" stroke-linejoin="round"><path stroke-width="1" d="M5.300.600H3.300C1.600.600.500 1.700.500 3.400v4.200c0 1.700 1.100 2.700 2.800 2.700h4.200c1.700 0 2.800-1 2.800-2.700V5.500"/><path stroke-width="2.500" d="M4.500 6.300l4.900-4.800"/><path stroke="#fff" stroke-width=".7" d="M4.500 6.300l4.900-4.800"/></g></svg>
<svg class="b" style="left:852.2px;top:458.2px;" width="9.4" height="10.8" viewBox="0 0 9.400 10.800"><g fill="none" stroke="#333" stroke-width="1" stroke-linecap="round" stroke-linejoin="round"><path d="M.5 2.400h8.400M3.100 2.300c0-1 .7-1.800 1.600-1.800s1.600.8 1.600 1.800M1.400 2.600l.6 6.100c.1 1 .7 1.600 1.600 1.600h2.200c.9 0 1.500-.6 1.600-1.600l.6-6.100"/><path stroke-width="1.300" d="M4.700 5v2.300"/></g></svg>
<span class="t" style="left:208px;top:499px;font-size:8.2px;line-height:11px;-webkit-text-stroke:0.22px;transform:translate(0px,0.6px) scaleX(0.923);">Showing Data 1 to 10 of 120 Entries</span>
<div class="b" style="left:773px;top:496px;width:18.5px;height:16.5px;background:#f5922f;border-radius:2.500px"></div>
<span class="t" style="left:780px;top:499px;font-size:8.5px;line-height:11px;color:#fde3c8;-webkit-text-stroke:0.22px;transform:translate(0.6px,0.9px) scaleX(0.760);">1</span>
<div class="b" style="left:796.2px;top:496px;width:19.5px;height:16.5px;background:#fff;border:1px solid #f3f3f4;border-radius:2.500px"></div>
<span class="t" style="left:803px;top:499px;font-size:8.5px;line-height:11px;-webkit-text-stroke:0.22px;transform:translate(0.8px,0.9px) scaleX(0.908);">2</span>
<div class="b" style="left:819.4px;top:496px;width:19.6px;height:16.5px;background:#fff;border:1px solid #f3f3f4;border-radius:2.500px"></div>
<span class="t" style="left:827px;top:499px;font-size:8.5px;line-height:11px;-webkit-text-stroke:0.22px;transform:translate(0.05px,0.9px) scaleX(0.908);">3</span>
<div class="b" style="left:853.5px;top:496px;width:27.9px;height:16.5px;background:#fff;border:1px solid #f3f3f4;border-radius:2.500px"></div>
<span class="t" style="left:861px;top:499px;font-size:8.5px;line-height:11px;-webkit-text-stroke:0.22px;transform:translate(0.15px,0.9px) scaleX(0.888);">120</span>
<span class="t" style="left:844px;top:499px;font-size:8.5px;line-height:11px;color:#444;-webkit-text-stroke:0.22px;transform:translate(0px,0.9px) scaleX(0.804);">...</span>
<svg class="b" style="left:888.8px;top:501.7px;" width="4" height="5.8" viewBox="0 0 4 5.800"><path d="M.7.600l2.500 2.300L.7 5.200" fill="none" stroke="#333" stroke-width="1.200" stroke-linecap="round" stroke-linejoin="round"/></svg>
<div class="b" style="left:163px;top:100.5px;width:90.4px;height:106.2px;background:#fff;border:1px solid #ececee;border-radius:7px;box-shadow:0 2px 8px rgba(0,0,0,.06)"></div>
<div class="b" style="left:164px;top:138px;width:88.4px;height:1px;background:#f0f0f2"></div>
<div class="b" style="left:164px;top:168.5px;width:88.4px;height:1px;background:#f0f0f2"></div>
<span class="t" style="left:173px;top:118px;font-size:7.9px;line-height:10px;font-weight:700;color:#1a1a1a;transform:translate(0.5px,0.9px) scaleX(1.026);">User Information</span>
<span class="t" style="left:173px;top:149px;font-size:7.9px;line-height:10px;font-weight:700;color:#1a1a1a;transform:translate(0.5px,0.7px) scaleX(1.017);">Role Management</span>
<span class="t" style="left:170px;top:180px;font-size:7.9px;line-height:10px;font-weight:700;color:#1a1a1a;transform:translate(0px,0.5px) scaleX(1.023);">Group Management</span>
<span class="t" style="left:206px;top:628px;font-size:8.9px;line-height:12px;color:#505050;-webkit-text-stroke:0.22px;transform:translate(0.1px,0.6px) scaleX(1.013);">© 2025 Techwave. All Rights Reserved.</span>
<span class="t" style="left:805px;top:628px;font-size:8.9px;line-height:12px;color:#505050;-webkit-text-stroke:0.22px;transform:translate(0px,0.6px) scaleX(1.003);">Developed By: SKiTech</span>
</div>
</body></html>
